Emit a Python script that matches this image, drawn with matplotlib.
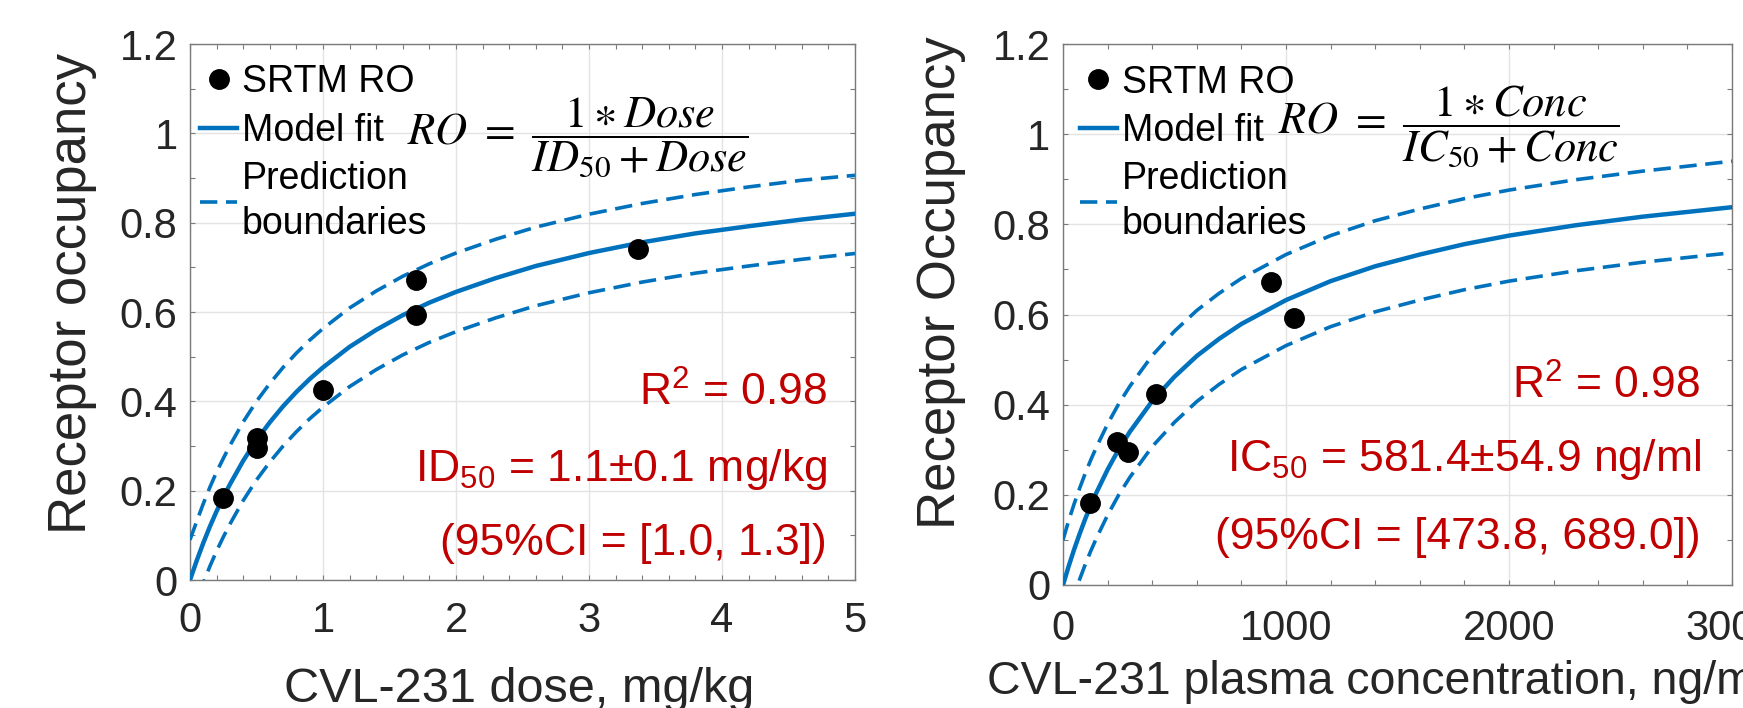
import matplotlib
matplotlib.use("Agg")
import matplotlib.pyplot as plt
from matplotlib.ticker import MultipleLocator, FuncFormatter

# ---- data ----
dose_obs = [0.25, 0.5, 0.5, 1.0, 1.7, 1.7, 3.37]
dose_ro = [0.184, 0.317, 0.295, 0.425, 0.671, 0.594, 0.741]

dose_grid = [0, 0.05, 0.1, 0.15, 0.2, 0.25, 0.3, 0.4, 0.5, 0.6, 0.7, 0.8, 0.9, 1.0,
             1.2, 1.4, 1.6, 1.8, 2.0, 2.3, 2.6, 3.0, 3.4, 3.8, 4.2, 4.6, 5.0]
dose_fit = [0, 0.043, 0.083, 0.120, 0.154, 0.185, 0.214, 0.267, 0.313, 0.353, 0.389, 0.421, 0.450, 0.476,
            0.522, 0.560, 0.593, 0.621, 0.645, 0.676, 0.703, 0.732, 0.756, 0.776, 0.792, 0.807, 0.820]
dose_upper = [0.090, 0.131, 0.171, 0.208, 0.242, 0.272, 0.301, 0.354, 0.400, 0.440, 0.476, 0.508, 0.537, 0.563,
              0.609, 0.647, 0.680, 0.708, 0.732, 0.763, 0.790, 0.819, 0.843, 0.863, 0.880, 0.895, 0.906]
dose_lower = [-0.090, -0.046, -0.006, 0.031, 0.065, 0.096, 0.125, 0.178, 0.224, 0.264, 0.300, 0.332, 0.361, 0.387,
              0.433, 0.471, 0.504, 0.532, 0.556, 0.587, 0.614, 0.643, 0.667, 0.687, 0.703, 0.718, 0.731]

conc_obs = [121, 243, 290, 416, 931, 1037]
conc_ro = [0.181, 0.317, 0.296, 0.424, 0.671, 0.593]

conc_grid = [0, 25, 50, 75, 100, 125, 150, 200, 250, 300, 400, 500, 600, 700, 800,
             1000, 1200, 1400, 1600, 1800, 2000, 2300, 2600, 3000]
conc_fit = [0, 0.041, 0.079, 0.114, 0.147, 0.177, 0.205, 0.256, 0.301, 0.340, 0.408, 0.462, 0.508, 0.546, 0.579,
            0.632, 0.674, 0.707, 0.733, 0.756, 0.775, 0.798, 0.817, 0.838]
conc_upper = [0.100, 0.142, 0.180, 0.215, 0.248, 0.278, 0.306, 0.357, 0.402, 0.441, 0.509, 0.563, 0.609, 0.647, 0.680,
              0.733, 0.775, 0.808, 0.834, 0.857, 0.876, 0.899, 0.918, 0.940]
conc_lower = [-0.100, -0.060, -0.022, 0.013, 0.046, 0.076, 0.104, 0.155, 0.200, 0.239, 0.307, 0.361, 0.407, 0.445, 0.478,
              0.531, 0.573, 0.606, 0.632, 0.655, 0.674, 0.697, 0.716, 0.737]

yticks = [0, 0.2, 0.4, 0.6, 0.8, 1.0, 1.2]

plt.rcParams["font.family"] = ["Liberation Sans", "DejaVu Sans"]
plt.rcParams["mathtext.fontset"] = "custom"
plt.rcParams["mathtext.rm"] = "Liberation Sans"
plt.rcParams["mathtext.it"] = "Liberation Sans:italic"

BLUE = "#0072BD"
RED = "#C00000"
GREY = "#262626"
W, H = 1743, 708

fig = plt.figure(figsize=(W / 100, H / 100), dpi=100)


def px_axes(x0, y0, x1, y1):
    return fig.add_axes([x0 / W, 1 - y1 / H, (x1 - x0) / W, (y1 - y0) / H])


def style_axes(ax, xmax, xmajor, xminor, xpad):
    ax.set_xlim(0, xmax)
    ax.set_ylim(0, 1.2)
    ax.set_yticks(yticks)
    ax.xaxis.set_major_locator(MultipleLocator(xmajor))
    ax.xaxis.set_minor_locator(MultipleLocator(xminor))
    ax.yaxis.set_minor_locator(MultipleLocator(0.1))
    ax.yaxis.set_major_formatter(FuncFormatter(lambda v, p: f"{v:g}"))
    ax.xaxis.set_major_formatter(FuncFormatter(lambda v, p: f"{v:g}"))
    ax.tick_params(which="both", direction="in", top=True, right=True,
                   length=3.6, width=0.8, color="#7a7a7a", labelcolor=GREY, labelsize=30)
    ax.tick_params(axis="x", which="major", pad=xpad)
    ax.tick_params(axis="y", which="major", pad=9)
    ax.grid(True, which="major", color="#e3e3e3", linewidth=1)
    ax.set_axisbelow(True)
    for s in ax.spines.values():
        s.set_color("#7a7a7a")
        s.set_linewidth(1)


def draw_panel(ax, gx, fit, up, lo, ox, oy):
    ax.plot(ox, oy, "o", color="black", markersize=14, label="SRTM RO", zorder=4)
    ax.plot(gx, fit, "-", color=BLUE, linewidth=3.2, label="Model fit", zorder=3)
    ax.plot(gx, up, "--", color=BLUE, linewidth=2.6, dashes=(4.8, 2.4),
            label="Prediction\nboundaries", zorder=3)
    ax.plot(gx, lo, "--", color=BLUE, linewidth=2.6, dashes=(4.8, 2.4), zorder=3)


def add_legend(ax, x):
    leg = ax.legend(loc="upper left", bbox_to_anchor=(x, 0.962), frameon=False, fontsize=27,
                    handlelength=1.0, handletextpad=0.12, labelspacing=0.33, borderpad=0,
                    borderaxespad=0, numpoints=1)
    for t in leg.get_texts():
        t.set_linespacing(1.3)


# ---- left panel: dose ----
ax1 = px_axes(190, 44, 855, 580)
draw_panel(ax1, dose_grid, dose_fit, dose_upper, dose_lower, dose_obs, dose_ro)
style_axes(ax1, 5, 1, 0.2, 15)
ax1.set_ylabel("Receptor occupancy", fontsize=38, color=GREY)
ax1.yaxis.set_label_coords(-0.14, 0.535)
ax1.set_xlabel("CVL-231 dose, mg/kg", fontsize=35, color=GREY)
ax1.xaxis.set_label_coords(0.495, -0.205)
ax1.xaxis.label.set_va("center")
add_legend(ax1, 0.015)
fig.text(407 / W, 1 - 138 / H, r"$RO\ =\ \dfrac{1\ast Dose}{ID_{50}+Dose}$",
         math_fontfamily="stix", fontsize=32, ha="left", va="center")
ax1.text(0.958, (580 - 393) / 536, r"R$^{2}$ = 0.98", transform=ax1.transAxes,
         color=RED, fontsize=32, ha="right", va="center")
ax1.text(0.958, (580 - 470) / 536, r"ID$_{50}$ = 1.1±0.1 mg/kg", transform=ax1.transAxes,
         color=RED, fontsize=32, ha="right", va="center")
ax1.text(0.958, (580 - 544) / 536, "(95%CI = [1.0, 1.3])", transform=ax1.transAxes,
         color=RED, fontsize=32, ha="right", va="center")

# ---- right panel: plasma concentration ----
ax2 = px_axes(1063, 44, 1732, 585)
draw_panel(ax2, conc_grid, conc_fit, conc_upper, conc_lower, conc_obs, conc_ro)
style_axes(ax2, 3000, 1000, 200, 17)
ax2.set_ylabel("Receptor Occupancy", fontsize=38, color=GREY)
ax2.yaxis.set_label_coords(-0.145, 0.558)
ax2.set_xlabel("CVL-231 plasma concentration, ng/ml", fontsize=33.5, color=GREY)
ax2.xaxis.set_label_coords((987 - 1063) / 669, -0.18)
ax2.xaxis.label.set_ha("left")
ax2.xaxis.label.set_va("center")
add_legend(ax2, 0.025)
fig.text(1278 / W, 1 - 127 / H, r"$RO\ =\ \dfrac{1\ast Conc}{IC_{50}+Conc}$",
         math_fontfamily="stix", fontsize=32, ha="left", va="center")
ax2.text(0.953, (585 - 386) / 541, r"R$^{2}$ = 0.98", transform=ax2.transAxes,
         color=RED, fontsize=32, ha="right", va="center")
ax2.text(0.953, (585 - 460) / 541, r"IC$_{50}$ = 581.4±54.9 ng/ml", transform=ax2.transAxes,
         color=RED, fontsize=32, ha="right", va="center")
ax2.text(0.953, (585 - 537) / 541, "(95%CI = [473.8, 689.0])", transform=ax2.transAxes,
         color=RED, fontsize=32, ha="right", va="center")

fig.savefig("out.png", dpi=100)
